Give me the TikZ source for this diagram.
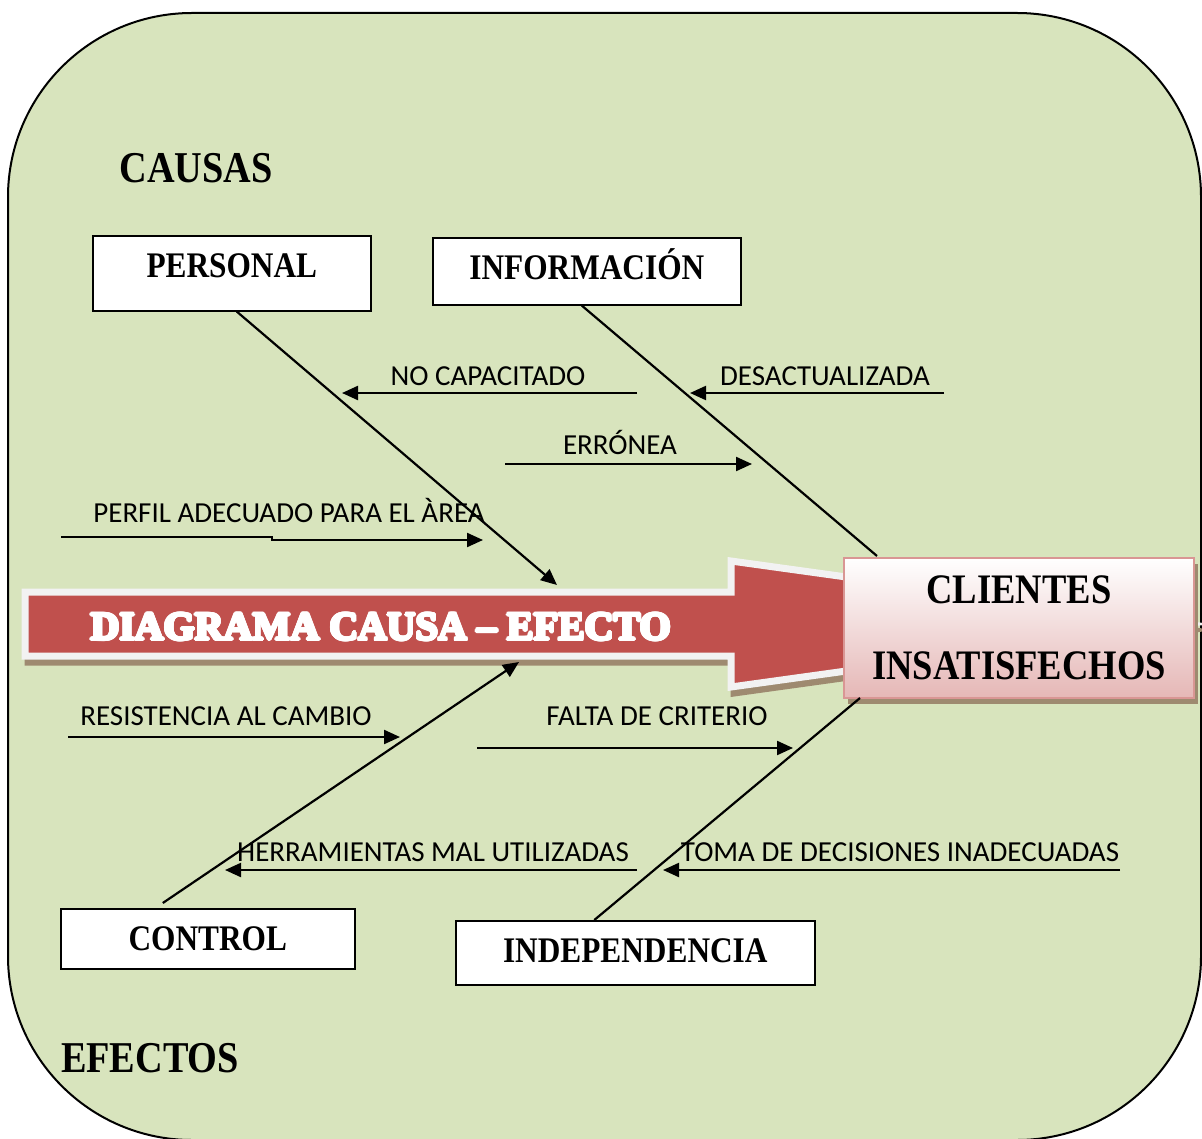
\documentclass[tikz,border=0pt]{standalone}
\usepackage{fontspec}
\setmainfont{Liberation Serif}
\newfontfamily\headfont[FakeStretch=0.87]{Liberation Serif}
\newfontfamily\causefont{Carlito}
\usepackage[copies]{contour}
\contourlength{0.7pt}
\usepackage{tikz}
\usetikzlibrary{arrows.meta,shadows}
\definecolor{fieldgreen}{RGB}{216,228,189}
\definecolor{spinered}{RGB}{192,80,77}
\definecolor{spinerim}{RGB}{242,242,242}
\definecolor{dropbrown}{RGB}{158,138,112}
\definecolor{effectpink}{RGB}{229,183,182}
\definecolor{effectrim}{RGB}{217,150,148}

\begin{document}
\begin{tikzpicture}[
  x=0.5pt,y=-0.5pt,>={Triangle[length=8pt,width=7pt]},
  heading/.style={font=\headfont\bfseries\fontsize{22}{26}\selectfont},
  catbox/.style={draw,fill=white,line width=0.8pt,inner sep=0pt,anchor=north west,text height=21pt,font=\headfont\bfseries\fontsize{18}{21}\selectfont},
  effect/.style={draw=effectrim,line width=1pt,top color=white,bottom color=effectpink,anchor=north west,align=center,inner sep=0pt,minimum width=175pt,minimum height=70pt,font=\headfont\bfseries\fontsize{21}{25}\selectfont,drop shadow={shadow xshift=2pt,shadow yshift=-3pt,fill=dropbrown,opacity=1}},
  cause/.style={anchor=base,font=\causefont\fontsize{14.5}{17}\selectfont},
  bone/.style={->,line width=1.1pt},
  link/.style={->,line width=1.1pt}
]
\useasboundingbox (0,0) rectangle (1202,1138);
\draw[line width=1pt,fill=fieldgreen,rounded corners=92pt] (8,13) rectangle (1201,1140);

\draw[dropbrown,fill=dropbrown,line width=3.5pt,shift={(3,6)}] (25,592) -- (731,592) -- (731,561) -- (1185,624) -- (731,687) -- (731,656) -- (25,656) -- cycle;
\draw[spinerim,fill=spinered,line width=3.5pt] (25,592) -- (731,592) -- (731,561) -- (1185,624) -- (731,687) -- (731,656) -- (25,656) -- cycle;
\node[anchor=base,text=white,font=\bfseries\fontsize{20}{24}\selectfont] (title) at (381,640) {\contour{white}{DIAGRAMA CAUSA – EFECTO}};

\node[heading] (causas) at (196,168) {CAUSAS};
\node[heading] (efectos) at (150,1058) {EFECTOS};

\node[catbox,minimum width=139pt,text depth=16.5pt] (pers) at (92,235) {PERSONAL};
\node[catbox,minimum width=154pt,text depth=12.5pt] (info) at (432,237) {INFORMACIÓN};
\node[catbox,minimum width=147pt,text depth=9pt] (ctrl) at (60,908) {CONTROL};
\node[catbox,minimum width=179.5pt,text depth=11pt] (indep) at (455,920) {INDEPENDENCIA};
\node[effect] (efecto) at (843,557) {CLIENTES\\[13pt]INSATISFECHOS};

\coordinate (persEnd) at (557,585); \coordinate (infoEnd) at (877,556);
\coordinate (ctrlEnd) at (519,662); \coordinate (indepEnd) at (860,698);
\draw[bone] ([xshift=2.5pt]pers.south) -- (persEnd);
\draw[line width=1.1pt] ([xshift=-2.5pt]info.south) -- (infoEnd);
\draw[bone] ([xshift=-22.5pt,yshift=2.5pt]ctrl.north) -- (ctrlEnd);
\draw[line width=1.1pt] ([xshift=-20.5pt]indep.north) -- (indepEnd);

\node[cause] (nocap) at (488,386) {NO CAPACITADO};
\node[cause] (desact) at (825,386) {DESACTUALIZADA};
\node[cause] (erronea) at (620,454) {ERRÓNEA};
\node[cause] (perfil) at (289,522) {PERFIL ADECUADO PARA EL ÀREA};
\node[cause] (resist) at (226,725) {RESISTENCIA AL CAMBIO};
\node[cause] (falta) at (657,725) {FALTA DE CRITERIO};
\node[cause] (herram) at (433,861) {HERRAMIENTAS MAL UTILIZADAS};
\node[cause] (toma) at (900,861) {TOMA DE DECISIONES INADECUADAS};

\coordinate (nocapA) at (637,393); \coordinate (nocapB) at (342,393);
\coordinate (desactA) at (944,393); \coordinate (desactB) at (690,393);
\coordinate (erroneaA) at (505,464); \coordinate (erroneaB) at (752,464);
\coordinate (perfilA) at (61,537); \coordinate (perfilB) at (483,540);
\coordinate (resistA) at (68,737); \coordinate (resistB) at (400,737);
\coordinate (faltaA) at (477,748); \coordinate (faltaB) at (793,748);
\coordinate (herramA) at (637,870); \coordinate (herramB) at (225,870);
\coordinate (tomaA) at (1120,870); \coordinate (tomaB) at (663,870);
\draw[link] (nocapA) -- (nocapB); \draw[link] (desactA) -- (desactB);
\draw[link] (erroneaA) -- (erroneaB); \draw[link] (perfilA) -- ++(211,0) |- (perfilB);
\draw[link] (resistA) -- (resistB); \draw[link] (faltaA) -- (faltaB);
\draw[link] (herramA) -- (herramB); \draw[link] (tomaA) -- (tomaB);
\end{tikzpicture}
\end{document}
